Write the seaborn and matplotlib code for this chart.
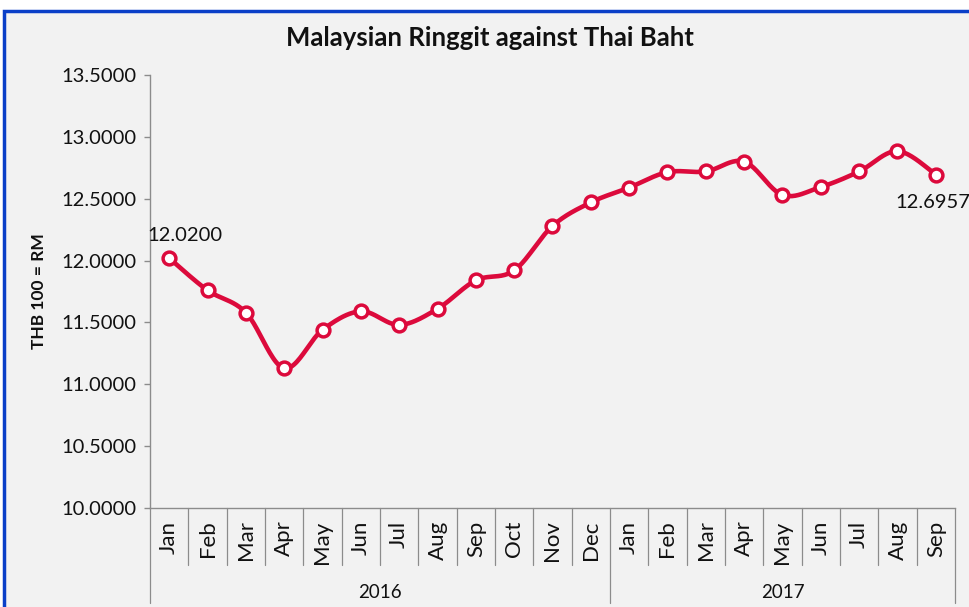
import numpy as np
import pandas as pd
import matplotlib
matplotlib.use('Agg')
import matplotlib.pyplot as plt
import seaborn as sns
import matplotlib.transforms as mtrans
from matplotlib.patches import Rectangle

# ---------------- data ----------------
months = ['Jan', 'Feb', 'Mar', 'Apr', 'May', 'Jun', 'Jul', 'Aug', 'Sep', 'Oct', 'Nov', 'Dec',
          'Jan', 'Feb', 'Mar', 'Apr', 'May', 'Jun', 'Jul', 'Aug', 'Sep']
years = ['2016'] * 12 + ['2017'] * 9
rates = [12.0200, 11.76, 11.58, 11.13, 11.44, 11.59, 11.48, 11.61, 11.84, 11.92, 12.28, 12.47,
         12.59, 12.715, 12.72, 12.80, 12.53, 12.595, 12.72, 12.885, 12.6957]
yticks = [10.0, 10.5, 11.0, 11.5, 12.0, 12.5, 13.0, 13.5]

RED = '#DC0A3C'
GREY = '#8C8C8C'
BG = '#F2F2F2'

sns.set_theme(style='white')
plt.rcParams['font.family'] = ['Lato', 'DejaVu Sans']

W, H = 970, 607
fig = plt.figure(figsize=(W / 100, H / 100), dpi=100)
fig.patch.set_facecolor('white')
fig.add_artist(Rectangle((4 / W, -0.1), 1.2, (H - 11) / H + 0.1, transform=fig.transFigure,
                         facecolor=BG, edgecolor='#0A3FC8', linewidth=2.5, zorder=-10))

ax = fig.add_axes([150 / W, (H - 508) / H, 805 / W, 433 / H])
ax.set_facecolor('none')

# smooth (Excel-like) curve through the data points
def smooth(xv, yv, n=24):
    xv = np.asarray(xv, float); yv = np.asarray(yv, float)
    px = np.concatenate([[xv[0]], xv, [xv[-1]]])
    py = np.concatenate([[yv[0]], yv, [yv[-1]]])
    ox, oy = [], []
    for i in range(1, len(px) - 2):
        t = np.linspace(0, 1, n, endpoint=False)
        p0, p1, p2, p3 = py[i - 1], py[i], py[i + 1], py[i + 2]
        q0, q1, q2, q3 = px[i - 1], px[i], px[i + 1], px[i + 2]
        t2, t3 = t * t, t * t * t
        f = lambda a0, a1, a2, a3: 0.5 * ((2 * a1) + (-a0 + a2) * t + (2 * a0 - 5 * a1 + 4 * a2 - a3) * t2 + (-a0 + 3 * a1 - 3 * a2 + a3) * t3)
        ox.append(f(q0, q1, q2, q3)); oy.append(f(p0, p1, p2, p3))
    ox.append([xv[-1]]); oy.append([yv[-1]])
    return np.concatenate(ox), np.concatenate(oy)

x = np.arange(len(rates))
xs, ys = smooth(x, rates)
df_s = pd.DataFrame({'x': xs, 'y': ys})
df = pd.DataFrame({'idx': x, 'rate': rates, 'month': months, 'year': years})

sns.lineplot(data=df_s, x='x', y='y', ax=ax, color=RED, linewidth=3.3, sort=False, estimator=None)
sns.scatterplot(data=df, x='idx', y='rate', ax=ax, s=85, color='white', edgecolor=RED,
                linewidth=2.5, zorder=5)

ax.set_xlim(-0.5, len(rates) - 0.5)
ax.set_ylim(10, 13.5)
ax.set_yticks(yticks)
ax.set_yticklabels([f'{v:.4f}' for v in yticks])
ax.set_xticks(x)
ax.set_xticklabels(months, rotation=90)
ax.tick_params(axis='x', length=0, pad=9, labelsize=16, colors='#111111')
ax.tick_params(axis='y', length=4.5, width=1, direction='out', color=GREY, labelsize=14.5,
               pad=5, left=True, labelcolor='#111111')
for s in ['top', 'right']:
    ax.spines[s].set_visible(False)
for s in ['left', 'bottom']:
    ax.spines[s].set_color(GREY)
    ax.spines[s].set_linewidth(1)
ax.set_xlabel('')
ax.set_ylabel('THB 100 = RM', fontweight='bold', fontsize=12.5, color='#111111')
ax.yaxis.set_label_coords((47 - 150) / 805, 0.5)

# multi-level category axis separators
trans = mtrans.blended_transform_factory(ax.transData, ax.transAxes)
bounds = np.arange(-0.5, len(rates), 1.0)
year_edges = [-0.5, years.index('2017') - 0.5, len(rates) - 0.5]
for b in bounds:
    low = -0.219 if any(abs(b - e) < 1e-6 for e in year_edges) else -0.1316
    ax.plot([b, b], [0, low], transform=trans, color=GREY, lw=0.9, clip_on=False)
for yr in ['2016', '2017']:
    idxs = [i for i, v in enumerate(years) if v == yr]
    ax.text((idxs[0] + idxs[-1]) / 2, -0.194, yr, transform=trans, ha='center', va='center',
            fontsize=13.5, color='#111111')

# data labels
ax.annotate(f'{rates[0]:.4f}', (0, rates[0]), xytext=(16, 23), textcoords='offset pixels',
            ha='center', va='center', fontsize=14.5, color='#111111')
ax.annotate(f'{rates[-1]:.4f}', (len(rates) - 1, rates[-1]), xytext=(-3, -28),
            textcoords='offset pixels', ha='center', va='center', fontsize=14.5, color='#111111')

fig.text(490 / W, 1 - 38 / H, 'Malaysian Ringgit against Thai Baht', ha='center', va='center',
         fontsize=18.5, fontweight='bold', color='#111111')

fig.savefig('out.png', dpi=100, facecolor=fig.get_facecolor())
